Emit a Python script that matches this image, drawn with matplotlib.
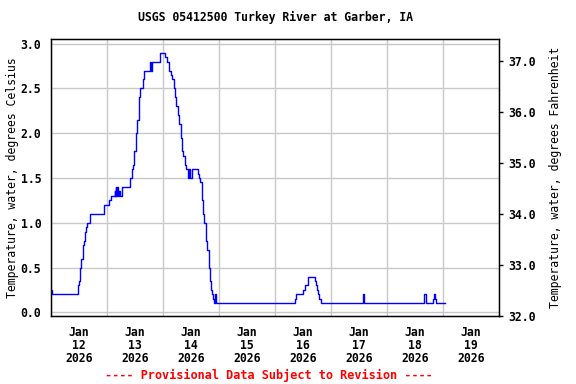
import numpy as np
import pandas as pd
import matplotlib
matplotlib.use('Agg')
import matplotlib.pyplot as plt
import matplotlib.dates as mdates

plt.rcParams['font.family'] = 'DejaVu Sans Mono'
plt.rcParams['font.weight'] = 'bold'
plt.rcParams['font.size'] = 8.3

# hours since 2026-01-12 00:00 and water temperature (deg C), step changes
hours = [0.0, 0.25, 11.75, 12.0, 12.5, 13.0, 13.5, 13.75, 14.25, 14.75, 15.0, 15.5, 16.5, 16.75,
         22.5, 22.75, 25.0, 25.5, 27.25, 27.5, 27.75, 28.0, 28.25, 28.5, 29.25, 29.5, 30.5,
         34.0, 34.75, 35.25, 35.75, 36.25, 36.5, 37.0, 37.5, 37.75, 38.25, 39.25, 40.0,
         42.25, 42.5, 43.0, 43.25, 46.5, 46.75, 49.0, 49.5, 50.75, 51.5, 52.0, 52.75, 53.25,
         53.75, 54.5, 55.0, 55.5, 55.75, 56.25, 56.75, 57.25, 57.5, 58.0, 58.75, 59.25, 59.75,
         60.25, 63.0, 63.5, 64.0, 64.5, 64.75, 65.25, 65.75, 66.25, 66.5, 67.0, 67.5, 67.75,
         68.25, 68.75, 69.0, 69.5, 70.0, 70.25, 70.5, 70.75,
         104.5, 105.0, 108.0, 109.0, 110.25, 113.25, 113.75, 114.0, 114.5, 115.0, 115.5,
         133.5, 133.75, 134.0, 160.0, 160.5, 160.75, 163.75, 164.25, 164.75, 165.0, 168.75]
temp_c = [0.25, 0.2, 0.3, 0.35, 0.5, 0.6, 0.65, 0.75, 0.8, 0.9, 0.95, 1.0, 1.05, 1.1,
          1.15, 1.2, 1.25, 1.3, 1.35, 1.3, 1.4, 1.3, 1.4, 1.3, 1.35, 1.3, 1.4,
          1.5, 1.6, 1.65, 1.8, 1.85, 2.0, 2.15, 2.25, 2.4, 2.5, 2.6, 2.7,
          2.75, 2.8, 2.7, 2.8, 2.85, 2.9, 2.85, 2.8, 2.7, 2.65, 2.6, 2.5, 2.4,
          2.3, 2.2, 2.1, 2.05, 1.95, 1.8, 1.75, 1.7, 1.65, 1.6, 1.5, 1.6, 1.5,
          1.6, 1.55, 1.5, 1.45, 1.35, 1.25, 1.1, 1.0, 0.95, 0.8, 0.7, 0.6, 0.5,
          0.35, 0.25, 0.2, 0.15, 0.1, 0.2, 0.15, 0.1,
          0.15, 0.2, 0.25, 0.3, 0.4, 0.35, 0.3, 0.25, 0.2, 0.15, 0.1,
          0.15, 0.2, 0.1, 0.2, 0.15, 0.1, 0.15, 0.2, 0.15, 0.1, 0.1]

t0 = pd.Timestamp('2026-01-12 00:00')
times = t0 + pd.to_timedelta(hours, unit='h')

fig = plt.figure(figsize=(5.76, 3.84), dpi=100)
ax1 = fig.add_axes([51/576, 1-316/384, 448/576, 277/384])

ax1.plot(times, temp_c, color='#0000ff', lw=1.0, drawstyle='steps-post', zorder=3)

ax1.set_xlim(t0, t0 + pd.Timedelta(days=8))
ax1.set_ylim(-0.041, 3.052)
ax1.set_yticks(np.arange(0, 3.01, 0.5))
ax1.set_yticklabels([f'{v:.1f}' for v in np.arange(0, 3.01, 0.5)])

# gridlines at midnight, date labels at noon
ax1.xaxis.set_major_locator(mdates.DayLocator())
ax1.xaxis.set_major_formatter(plt.NullFormatter())
ax1.xaxis.set_minor_locator(mdates.HourLocator(byhour=[12]))
ax1.xaxis.set_minor_formatter(mdates.DateFormatter('%b\n%d\n%Y'))
ax1.tick_params(axis='x', which='both', length=0, pad=7)
ax1.tick_params(axis='y', length=0, pad=7)
for lab in ax1.get_xticklabels(minor=True):
    lab.set_linespacing(1.0)

ax1.grid(True, which='major', color='#c8c8c8', lw=1.0)
for s in ax1.spines.values():
    s.set_linewidth(1.0)

ax1.set_ylabel('Temperature, water, degrees Celsius')
ax1.yaxis.set_label_coords(-0.071, 0.5)
ax1.set_title('USGS 05412500 Turkey River at Garber, IA', pad=13, fontsize=8.3, fontweight='bold')

ax2 = ax1.twinx()
ax2.set_ylim(32.0, 37.43)
ax2.set_yticks(np.arange(32, 37.1, 1.0))
ax2.set_yticklabels([f'{v:.1f}' for v in np.arange(32, 37.1, 1.0)])
ax2.tick_params(axis='y', length=3, width=1, pad=4)
ax2.set_ylabel('Temperature, water, degrees Fahrenheit')
ax2.yaxis.set_label_coords(1.112, 0.5)

fig.text(269/576, 1-375/384, '---- Provisional Data Subject to Revision ----',
         color='red', ha='center', va='center', fontsize=8.6, fontweight='bold')

fig.savefig('out.png', dpi=100)
